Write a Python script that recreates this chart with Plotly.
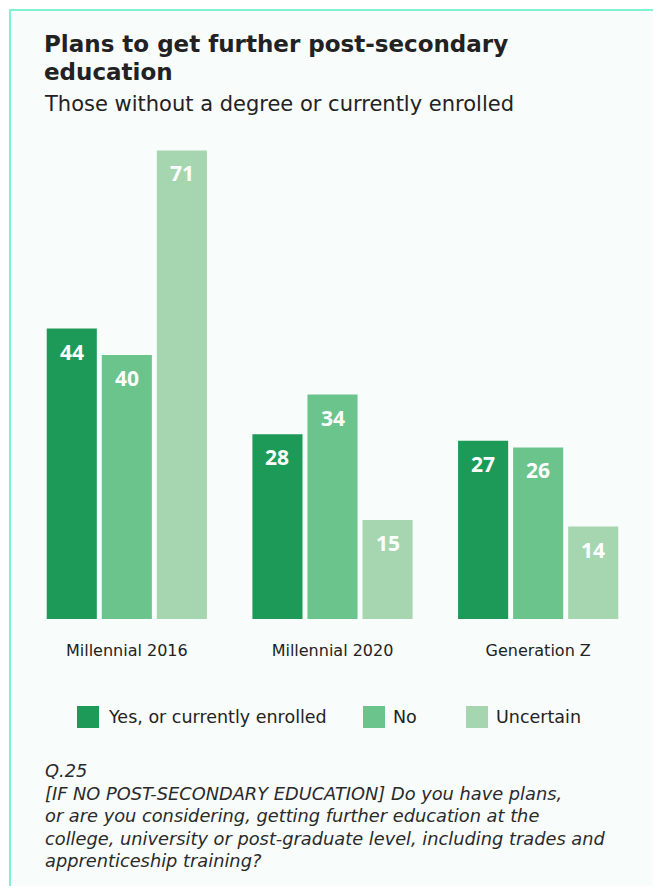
import plotly.graph_objects as go

categories = ["Millennial 2016", "Millennial 2020", "Generation Z"]
series_names = ["Yes, or currently enrolled", "No", "Uncertain"]
yes_values = [44, 28, 27]
no_values = [40, 34, 26]
uncertain_values = [71, 15, 14]
series_values = [yes_values, no_values, uncertain_values]
colors = ["#1E9A58", "#6CC48D", "#A6D6AF"]

title_lines = ["Plans to get further post-secondary", "education"]
subtitle = "Those without a degree or currently enrolled"
footnote_lines = ["Q.25",
                  "[IF NO POST-SECONDARY EDUCATION] Do you have plans,",
                  "or are you considering, getting further education at the",
                  "college, university or post-graduate level, including trades and",
                  "apprenticeship training?"]

OFF = 8  # page offset of the figure in the browser window (body margin)
W, H = 661 - 2 * OFF, 894 - 2 * OFF
ML, MT = 24 - OFF, 124 - OFF
PW = 617
PH = 495
MR = W - ML - PW
MB = H - MT - PH
BARGAP = 0.197
GROUPGAP = 0.09

def px2x(px):
    return (px - OFF - ML) / PW

def px2y(py):
    return (MT + PH - (py - OFF)) / PH

FONT = "DejaVu Sans"
NUMFONT = "Open Sans"
TXT = "#222222"

fig = go.Figure()
for name, vals, col in zip(series_names, series_values, colors):
    fig.add_trace(go.Bar(x=categories, y=vals, name=name, marker_color=col,
                         marker_line_width=0, showlegend=False, hoverinfo="x+y+name"))

annotations = []
slot = (1 - BARGAP) / len(series_names)
for j, vals in enumerate(series_values):
    off = (j - (len(series_names) - 1) / 2) * slot
    for i, v in enumerate(vals):
        annotations.append(dict(x=i + off, y=v, xref="x", yref="y", text=str(v),
                                showarrow=False, yanchor="middle", yshift=-23,
                                font=dict(family=NUMFONT, size=21, color="white", weight="bold")))

# titles
for line, yc in zip(title_lines, [44, 72]):
    annotations.append(dict(x=px2x(42), y=px2y(yc), xref="paper", yref="paper", xanchor="left",
                            yanchor="middle", align="left", showarrow=False, text=line,
                            font=dict(family=FONT, size=23, color=TXT, weight="bold")))
annotations.append(dict(x=px2x(42), y=px2y(104), xref="paper", yref="paper", xanchor="left",
                        yanchor="middle", showarrow=False, text=subtitle,
                        font=dict(family=FONT, size=21, color=TXT)))
for line, yc in zip(footnote_lines, [770, 793, 815.5, 838, 860]):
    annotations.append(dict(x=px2x(43), y=px2y(yc), xref="paper", yref="paper", xanchor="left",
                            yanchor="middle", align="left", showarrow=False, text=line,
                            font=dict(family=FONT, size=17.8, color="#2a2a2a", style="italic")))

shapes = [dict(type="rect", xref="paper", yref="paper", x0=px2x(10), x1=px2x(720),
               y0=px2y(10), y1=px2y(940), line=dict(color="#7FF3D0", width=2),
               fillcolor="#F8FCFB", layer="below")]

# manual legend
leg_sw_x = [77, 363, 466]
leg_tx_x = [106, 391, 494]
leg_y = 717
for name, col, sx, tx in zip(series_names, colors, leg_sw_x, leg_tx_x):
    shapes.append(dict(type="rect", xref="paper", yref="paper", x0=px2x(sx), x1=px2x(sx + 22),
                       y0=px2y(leg_y - 11), y1=px2y(leg_y + 11), fillcolor=col,
                       line=dict(width=0)))
    annotations.append(dict(x=px2x(tx), y=px2y(leg_y), xref="paper", yref="paper",
                            xanchor="left", yanchor="middle", showarrow=False, text=name,
                            font=dict(family=FONT, size=17.5, color=TXT)))

fig.update_layout(
    width=W, height=H,
    margin=dict(l=ML, r=MR, t=MT, b=MB, pad=0),
    barmode="group", bargap=BARGAP, bargroupgap=GROUPGAP,
    paper_bgcolor="white", plot_bgcolor="rgba(0,0,0,0)",
    annotations=annotations, shapes=shapes,
    xaxis=dict(showgrid=False, zeroline=False, showline=False, ticks="",
               ticklabelstandoff=20,
               tickfont=dict(family=FONT, size=16, color=TXT)),
    yaxis=dict(range=[0, 75], visible=False, showgrid=False, zeroline=False),
    showlegend=False,
)

fig.write_html("out.html")
